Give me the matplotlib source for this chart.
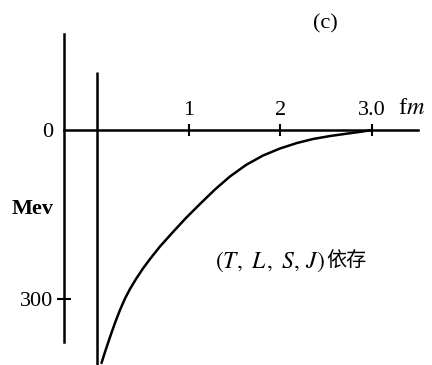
import matplotlib
matplotlib.use("Agg")
import matplotlib.pyplot as plt

plt.rcParams['mathtext.fontset'] = 'stix'
plt.rcParams['font.family'] = ['Liberation Serif', 'Noto Sans CJK SC', 'DejaVu Serif']

# Central potential V(r) (MeV) against separation r (fm)
r_fm = [0.044, 0.082, 0.137, 0.191, 0.246, 0.301, 0.355, 0.421, 0.497, 0.574,
        0.683, 0.825, 0.967, 1.120, 1.284, 1.448, 1.623, 1.809, 1.995, 2.180,
        2.355, 2.541, 2.760, 2.891, 3.0]
v_mev = [-413.6, -394.1, -367.5, -342.6, -319.5, -299.1, -282.3, -264.5, -245.9, -229.0,
         -206.8, -181.1, -156.2, -131.4, -105.6, -82.5, -62.1, -45.3, -32.8, -23.1,
         -16.0, -10.7, -5.7, -2.8, 0.0]

# Hard-core wall at the origin
core_r = 0.0
core_top = 103

x_ticks = [1, 2, 3]
x_tick_labels = ['1', '2', '3.0']
y_ticks = [-300]
y_tick_labels = ['300']

fig = plt.figure(figsize=(4.32, 3.65), dpi=100)
ax = fig.add_axes([0, 0, 1, 1])
ax.set_xlim(-1.0656, 3.656)
ax.set_ylim(-417.2, 230.8)
ax.patch.set_alpha(0)

lw = 1.8
# vertical energy axis
ax.spines['left'].set_position(('data', -0.366))
ax.spines['left'].set_bounds(-376, 170)
ax.spines['left'].set_linewidth(lw)
# horizontal distance axis along V = 0, with labels above it
ax.spines['top'].set_position(('data', 0))
ax.spines['top'].set_bounds(-0.366, 3.503)
ax.spines['top'].set_linewidth(lw)
ax.spines['bottom'].set_visible(False)
ax.spines['right'].set_visible(False)

ax.xaxis.set_ticks_position('top')
ax.set_xticks(x_ticks)
ax.set_xticklabels(x_tick_labels)
ax.tick_params(axis='x', direction='inout', length=8.5, width=1.5,
               labelsize=16, pad=3)

ax.yaxis.set_ticks_position('left')
ax.set_yticks(y_ticks)
ax.set_yticklabels(y_tick_labels)
ax.set_yticks([0], minor=True)
ax.set_yticklabels(['0'], minor=True)
ax.tick_params(axis='y', which='major', direction='inout', length=10, width=1.5,
               labelsize=16, pad=2.5)
ax.tick_params(axis='y', which='minor', length=0, labelsize=16, pad=8)

ax.vlines(core_r, ax.get_ylim()[0], core_top, color='black', lw=lw)
ax.plot(r_fm, v_mev, color='black', lw=lw, solid_capstyle='round',
        solid_joinstyle='round')

fig.text(412 / 432, 1 - 108 / 365, 'f$m$', fontsize=17.5, ha='center', va='center')
fig.text(325 / 432, 1 - 24 / 365, '(c)', fontsize=16, ha='center', va='center')
fig.text(33 / 432, 1 - 209 / 365, 'Mev', fontsize=16, fontweight='bold',
         ha='center', va='center')
fig.text(325 / 432, 1 - 262 / 365, r'$(T,\ L\,,\ S,\,J)$', fontsize=17,
         ha='right', va='center')
fig.text(326 / 432, 1 - 261 / 365, '依存', fontsize=14.5, ha='left', va='center',
         family=['Noto Sans CJK SC', 'DejaVu Sans'])

fig.savefig('out.png', dpi=100, facecolor='white')
